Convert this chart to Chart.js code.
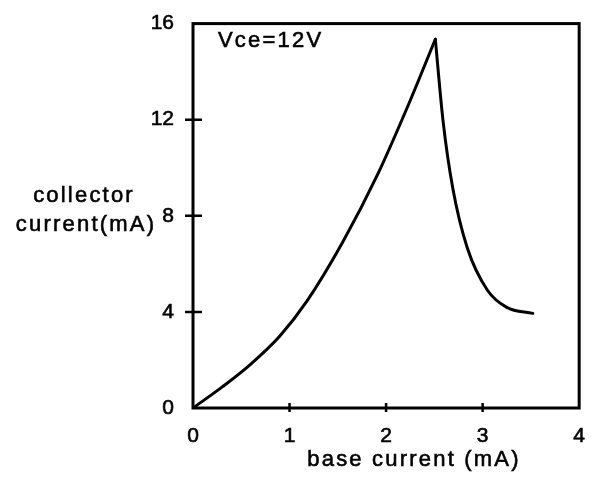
<!DOCTYPE html>
<html>
<head>
<meta charset="utf-8">
<script src="https://cdn.jsdelivr.net/npm/chart.js@4/dist/chart.umd.min.js"></script>
<style>
  html, body { margin: 0; padding: 0; background: #fff; overflow: hidden; }
  #wrap { width: 593px; height: 482px; }
</style>
</head>
<body>
<div id="wrap"><canvas id="ic"></canvas></div>
<script>
// rising branch: base current (mA) vs collector current (mA)
const riseBase = [0, 0.31, 0.59, 0.9, 1.18, 1.55, 1.91, 2.25, 2.51];
const riseCollector = [0, 0.9, 1.8, 3.0, 4.45, 6.9, 9.7, 12.8, 15.35];

// falling branch after the peak
const fallBase = [2.51, 2.59, 2.69, 2.84, 3.05, 3.25, 3.52];
const fallCollector = [15.35, 11.95, 9.17, 6.68, 4.9, 4.19, 3.94];

const xTicks = [0, 1, 2, 3, 4];
const yTicks = [0, 4, 8, 12, 16];

const FONT = '"Liberation Sans", Arial, Helvetica, sans-serif';

function pairs(xs, ys) {
    return xs.map((v, i) => ({ x: v, y: ys[i] }));
}

// box around the plot, tick marks crossing the axes, and free text
const frame = {
    id: 'frame',
    afterDraw(chart) {
        const { ctx, chartArea: a, scales } = chart;
        const x = scales.x, y = scales.y;
        ctx.save();
        ctx.strokeStyle = '#000';
        ctx.lineWidth = 3;
        ctx.strokeRect(a.left, a.top, a.right - a.left, a.bottom - a.top);

        ctx.lineWidth = 2.5;
        ctx.beginPath();
        yTicks.slice(1, -1).forEach(v => {
            const py = y.getPixelForValue(v);
            ctx.moveTo(a.left - 8, py);
            ctx.lineTo(a.left + 9, py);
        });
        xTicks.slice(1, -1).forEach(v => {
            const px = x.getPixelForValue(v);
            ctx.moveTo(px, a.bottom - 5);
            ctx.lineTo(px, a.bottom + 4);
        });
        ctx.stroke();

        const label = (s, px, py) => {
            ctx.fillText(s, px, py);
            ctx.strokeText(s, px, py);
        };
        ctx.fillStyle = '#000';
        ctx.lineWidth = 0.6;
        ctx.font = '22px ' + FONT;
        ctx.letterSpacing = '2.2px';
        ctx.textAlign = 'center';
        ctx.textBaseline = 'middle';
        label('collector', 84, 196);
        label('current(mA)', 86, 225);
        label('base current (mA)', 414, 460);
        ctx.textAlign = 'left';
        label('Vce=12V', 218, 41);
        ctx.restore();
    }
};

const tickStyle = {
    color: '#000',
    textStrokeColor: '#000',
    textStrokeWidth: 0.6,
    font: { family: FONT, size: 21 }
};

const ctx = document.getElementById('ic').getContext('2d');
new Chart(ctx, {
    type: 'line',
    data: {
        datasets: [
            {
                data: pairs(riseBase, riseCollector),
                borderColor: '#000',
                borderWidth: 3,
                pointRadius: 0,
                cubicInterpolationMode: 'monotone',
                borderCapStyle: 'round'
            },
            {
                data: pairs(fallBase, fallCollector),
                borderColor: '#000',
                borderWidth: 3,
                pointRadius: 0,
                cubicInterpolationMode: 'monotone',
                borderCapStyle: 'round'
            }
        ]
    },
    options: {
        responsive: true,
        maintainAspectRatio: false,
        animation: false,
        layout: { padding: { top: 22, right: 10, left: 0, bottom: 0 } },
        plugins: {
            legend: { display: false },
            tooltip: { enabled: false }
        },
        scales: {
            x: {
                type: 'linear',
                min: 0,
                max: 4,
                grid: { display: false },
                border: { display: false },
                afterFit(scale) { scale.height = 74; },
                afterBuildTicks(scale) { scale.ticks = xTicks.map(v => ({ value: v })); },
                ticks: Object.assign({ padding: 8 }, tickStyle)
            },
            y: {
                type: 'linear',
                min: 0,
                max: 16,
                grid: { display: false },
                border: { display: false },
                afterFit(scale) { scale.width = 193; },
                afterBuildTicks(scale) { scale.ticks = yTicks.map(v => ({ value: v })); },
                ticks: Object.assign({ padding: 11 }, tickStyle)
            }
        }
    },
    plugins: [frame]
});
</script>
</body>
</html>
